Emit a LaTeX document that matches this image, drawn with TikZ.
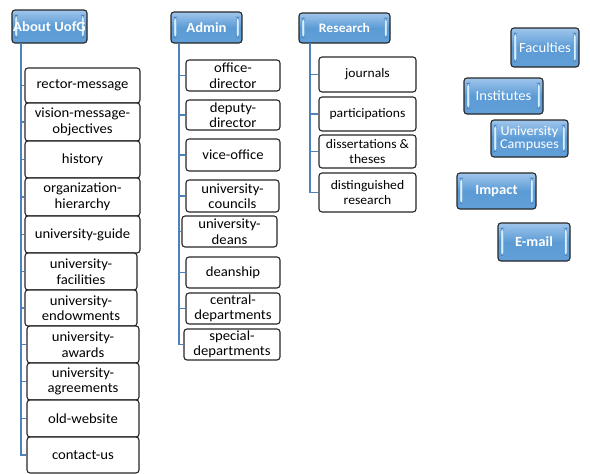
\documentclass[tikz,border=0pt]{standalone}
\usepackage{fontspec}
\setmainfont{Carlito}[FakeStretch=1.05]
\usetikzlibrary{positioning}
\definecolor{linkblue}{HTML}{4F81BD}
\definecolor{boxedge}{HTML}{262626}
\definecolor{btntop}{HTML}{A0C6EC}
\definecolor{btnmid}{HTML}{5B9BD5}
\definecolor{btnbot}{HTML}{629FD8}
\definecolor{btnbar}{HTML}{D2F0FF}
\definecolor{btnbaredge}{HTML}{3C78B8}
\tikzset{
  itembox/.style={draw=boxedge, line width=1.1pt, rounded corners=3pt, fill=white,
    align=center, inner sep=1pt, font=\fontsize{14}{15.5}\selectfont},
  smallitem/.style={itembox, font=\fontsize{13}{15.5}\selectfont},
  headbox/.style={draw=boxedge, line width=1.1pt, rounded corners=3pt,
    top color=btntop, bottom color=btnbot, middle color=btnmid,
    text=white, align=center, inner sep=1pt,
    font=\fontsize{14}{15}\selectfont\bfseries,
    path picture={
      \filldraw[fill=btnbar, draw=btnbaredge, line width=0.4pt]
        ([shift={(3pt,5pt)}]path picture bounding box.south west)
        rectangle ([shift={(5.5pt,-5pt)}]path picture bounding box.north west);
      \filldraw[fill=btnbar, draw=btnbaredge, line width=0.4pt]
        ([shift={(-3pt,5pt)}]path picture bounding box.south east)
        rectangle ([shift={(-5.5pt,-5pt)}]path picture bounding box.north east);
    }},
  lighthead/.style={headbox, font=\fontsize{14}{14}\selectfont},
  conn/.style={draw=linkblue, line width=1.3pt}
}
\begin{document}
\begin{tikzpicture}[x=1pt, y=-1pt]
\useasboundingbox (0,0) rectangle (590,474);

% ---- About column ----
\node[headbox, minimum width=75pt, minimum height=33pt] (about) at (49.5,26.5) {About UofG};
\node[itembox, minimum width=115pt, minimum height=35pt] (r1) at (82.5,85.5) {rector-message};
\node[itembox, minimum width=115pt, minimum height=38pt] (r2) at (82.5,122) {vision-message-\\objectives};
\node[itembox, minimum width=115pt, minimum height=37pt] (r3) at (82.5,159.5) {history};
\node[itembox, minimum width=115pt, minimum height=38pt] (r4) at (82.5,197) {organization-\\hierarchy};
\node[itembox, minimum width=115pt, minimum height=37pt] (r5) at (82.5,234.5) {university-guide};
\node[itembox, minimum width=112pt, minimum height=37pt] (r6) at (81,271.5) {university-\\facilities};
\node[itembox, minimum width=112pt, minimum height=36pt] (r7) at (81,308) {university-\\endowments};
\node[itembox, minimum width=112pt, minimum height=37pt] (r8) at (83,344.5) {university-\\awards};
\node[itembox, minimum width=112pt, minimum height=37pt] (r9) at (83,381.5) {university-\\agreements};
\node[itembox, minimum width=112pt, minimum height=37pt] (r10) at (83,418.5) {old-website};
\node[itembox, minimum width=112pt, minimum height=36pt] (r11) at (83,455) {contact-us};

\coordinate (stemA) at (21,43);
\draw[conn] (stemA) |- (r11.west);
\foreach \n in {r1,r2,r3,r4,r5,r6,r7,r8,r9,r10}
  \draw[conn] (stemA |- \n.west) -- (\n.west);

% ---- Admin column ----
\node[headbox, minimum width=71pt, minimum height=31pt] (admin) at (206.5,27.5) {Admin};
\node[itembox, minimum width=94pt, minimum height=31pt] (a1) at (233,75.5) {office-\\director};
\node[itembox, minimum width=94pt, minimum height=30pt] (a2) at (233,115) {deputy-\\director};
\node[itembox, minimum width=94pt, minimum height=32pt] (a3) at (233,155) {vice-office};
\node[itembox, minimum width=93pt, minimum height=32pt] (a4) at (232.5,196) {university-\\councils};
\node[itembox, minimum width=95pt, minimum height=31pt] (a5) at (229.5,231.5) {university-\\deans};
\node[itembox, minimum width=94pt, minimum height=31pt] (a6) at (233,272.5) {deanship};
\node[itembox, minimum width=94pt, minimum height=31pt] (a7) at (233,308.5) {central-\\departments};
\node[itembox, minimum width=96pt, minimum height=31pt] (a8) at (232,344.5) {special-\\departments};

\coordinate (stemB) at (179,43);
\draw[conn] (stemB) |- (a8.west);
\foreach \n in {a1,a2,a3,a4,a5,a6,a7}
  \draw[conn] (stemB |- \n.west) -- (\n.west);

% ---- Research column ----
\node[headbox, minimum width=91pt, minimum height=30pt, font=\fontsize{13}{14}\selectfont\bfseries] (research) at (344.5,28) {Research};
\node[smallitem, minimum width=97pt, minimum height=35pt] (j1) at (367.5,74.5) {journals};
\node[smallitem, minimum width=97pt, minimum height=34pt] (j2) at (367.5,114) {participations};
\node[smallitem, minimum width=97pt, minimum height=33pt] (j3) at (367.5,151.5) {dissertations \&\\theses};
\node[smallitem, minimum width=97pt, minimum height=39pt] (j4) at (367.5,192.5) {distinguished\\research};

\coordinate (stemC) at (310,43);
\draw[conn] (stemC) |- (j4.west);
\foreach \n in {j1,j2,j3}
  \draw[conn] (stemC |- \n.west) -- (\n.west);

% ---- Stand-alone buttons ----
\node[lighthead, minimum width=68pt, minimum height=39pt] (faculties) at (545,47.5) {Faculties};
\node[lighthead, minimum width=79pt, minimum height=36pt] (institutes) at (503.5,96) {Institutes};
\node[lighthead, minimum width=77pt, minimum height=37pt, font=\fontsize{13.5}{13.5}\selectfont] (campuses) at (529.5,138.5) {University\\Campuses};
\node[headbox, minimum width=79pt, minimum height=36pt] (impact) at (496.5,191) {Impact};
\node[headbox, minimum width=72pt, minimum height=38pt] (email) at (534,242) {E-mail};
\end{tikzpicture}
\end{document}
